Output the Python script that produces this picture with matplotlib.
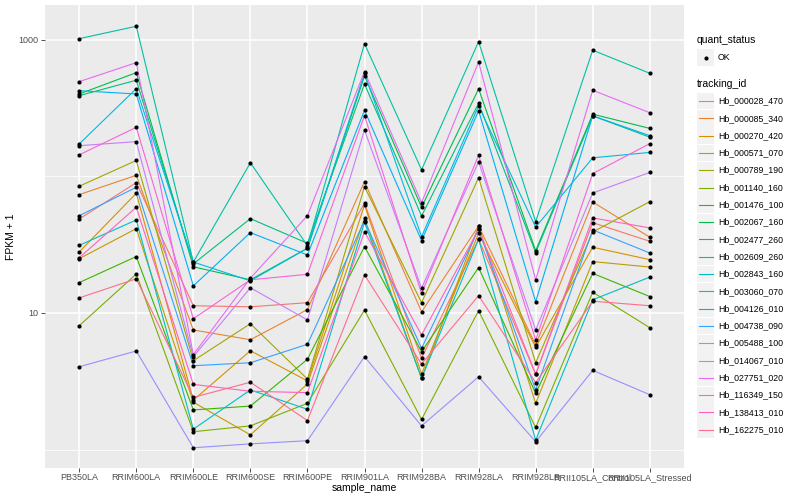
import matplotlib
matplotlib.use("Agg")
import matplotlib.pyplot as plt
from matplotlib.patches import Rectangle
import numpy as np

# ---- data: FPKM + 1 per sample ----
samples = ["PB350LA", "RRIM600LA", "RRIM600LE", "RRIM600SE", "RRIM600PE",
           "RRIM901LA", "RRIM928BA", "RRIM928LA", "RRIM928LB",
           "RRII105LA_Control", "RRII105LA_Stressed"]

tracking_ids = ["Hb_000028_470", "Hb_000085_340", "Hb_000270_420", "Hb_000571_070",
                "Hb_000789_190", "Hb_001140_160", "Hb_001476_100", "Hb_002067_160",
                "Hb_002477_260", "Hb_002609_260", "Hb_002843_160", "Hb_003060_070",
                "Hb_004126_010", "Hb_004738_090", "Hb_005488_100", "Hb_014067_010",
                "Hb_027751_020", "Hb_116349_150", "Hb_138413_010", "Hb_162275_010"]

hb_000028_470 = [48.8, 90.1, 11.3, 11.1, 11.9, 63.6, 4.66, 34.7, 3.56, 45.9, 33.5]
hb_000085_340 = [73.6, 102, 7.51, 6.37, 10.6, 91.6, 10.2, 43.4, 5.83, 65.0, 35.9]
hb_000270_420 = [28.0, 75.3, 2.30, 5.29, 3.18, 61.8, 3.57, 38.4, 5.61, 30.3, 24.6]
hb_000571_070 = [25.0, 41.5, 2.22, 1.28, 3.02, 49.4, 3.32, 43.4, 2.18, 23.8, 21.7]
hb_000789_190 = [84.8, 131, 4.47, 8.35, 3.28, 84.2, 11.9, 98, 4.32, 39.2, 65.4]
hb_001140_160 = [8.07, 19.3, 1.35, 1.49, 2.18, 10.5, 1.66, 10.4, 1.45, 14.2, 7.80]
hb_001476_100 = [16.7, 25.9, 1.95, 2.08, 4.58, 30.6, 5.21, 21.5, 2.58, 19.5, 13.2]
hb_002067_160 = [402, 576, 21.8, 17.5, 29.8, 545, 59.5, 438, 28.6, 286, 225]
hb_002477_260 = [391, 507, 22.9, 49.1, 32.4, 476, 51.4, 344, 27.7, 278, 194]
hb_002609_260 = [1022, 1260, 23.6, 126, 31.1, 940, 112, 972, 46.7, 841, 570]
hb_002843_160 = [31.3, 48.0, 1.41, 2.73, 1.97, 46.2, 3.32, 34.7, 1.17, 12.5, 18.3]
hb_003060_070 = [173, 440, 23.6, 17.2, 29.8, 570, 36.2, 329, 42.5, 137, 150]
hb_004126_010 = [425, 402, 15.8, 38.8, 26.6, 305, 33.9, 303, 12.1, 278, 199]
hb_004738_090 = [51.6, 83.3, 4.11, 4.32, 5.90, 47.5, 5.51, 41.0, 2.73, 40.6, 27.5]
hb_005488_100 = [4.04, 5.27, 1.03, 1.10, 1.16, 4.79, 1.49, 3.41, 1.14, 3.80, 2.52]
hb_014067_010 = [168, 180, 4.79, 15.3, 8.89, 219, 15.2, 128, 7.51, 75.7, 107]
hb_027751_020 = [495, 682, 4.95, 18.0, 51.6, 586, 64.3, 690, 17.5, 428, 293]
hb_116349_150 = [144, 229, 9.08, 17.5, 19.2, 279, 13.9, 143, 6.34, 105, 174]
hb_138413_010 = [25.4, 59.5, 3.00, 2.67, 2.61, 39.4, 6.90, 41.0, 3.56, 49.7, 42.0]
hb_162275_010 = [12.9, 17.8, 2.41, 3.11, 1.63, 19.0, 4.23, 13.4, 3.09, 12.2, 11.3]

series = [hb_000028_470, hb_000085_340, hb_000270_420, hb_000571_070, hb_000789_190,
          hb_001140_160, hb_001476_100, hb_002067_160, hb_002477_260, hb_002609_260,
          hb_002843_160, hb_003060_070, hb_004126_010, hb_004738_090, hb_005488_100,
          hb_014067_010, hb_027751_020, hb_116349_150, hb_138413_010, hb_162275_010]

# ggplot hue palette for 20 levels
colors = ["#F8766D", "#EA8331", "#D89000", "#C09B00", "#A3A500", "#7CAE00", "#39B600",
          "#00BB4E", "#00BF7D", "#00C1A3", "#00BFC4", "#00BAE0", "#00B0F6", "#35A2FF",
          "#9590FF", "#C77CFF", "#E76BF3", "#FA62DB", "#FF62BC", "#FF6C90"]

plt.rcParams['font.family'] = ['Liberation Sans', 'DejaVu Sans']

fig = plt.figure(figsize=(8, 5), dpi=100)
ax = fig.add_axes([45 / 800, 32 / 500, 639 / 800, 463 / 500])
ax.set_facecolor("#EBEBEB")

x = np.arange(len(samples))
for vals, col in zip(series, colors):
    ax.plot(x, vals, color=col, linewidth=0.8, zorder=3)
for vals in series:
    ax.scatter(x, vals, s=9, color="black", zorder=4, linewidths=0)

ax.set_yscale("log")
ax.set_ylim(0.732, 1803)
ax.set_xlim(-0.6, len(samples) - 0.4)
ax.set_yticks([10, 1000])
ax.set_yticklabels(["10", "1000"])
ax.set_yticks([1, 100], minor=True)
ax.yaxis.set_minor_formatter(plt.NullFormatter())
ax.set_xticks(x)
ax.set_xticklabels(samples)

ax.grid(True, which="major", color="white", linewidth=1.1, zorder=0)
ax.grid(True, which="minor", axis="y", color="white", linewidth=0.55, zorder=0)
ax.set_axisbelow(True)
for s in ax.spines.values():
    s.set_visible(False)
ax.tick_params(axis="both", which="major", length=3, width=0.6, color="#333333",
               labelsize=6.5, labelcolor="#4D4D4D", pad=1.5)
ax.tick_params(axis="x", which="major", pad=0.5)
ax.tick_params(axis="y", which="minor", length=0)

ax.set_xlabel("sample_name", fontsize=7.5, labelpad=0.5)
ax.set_ylabel("FPKM + 1", fontsize=7.5, labelpad=2)

# ---- legends, drawn in pixel coordinates ----
lg = fig.add_axes([0, 0, 1, 1], zorder=5)
lg.set_xlim(0, 800)
lg.set_ylim(500, 0)
lg.axis("off")

lg.text(697, 40, "quant_status", fontsize=7.5, va="center", ha="left")
lg.add_patch(Rectangle((697, 49), 17, 17, facecolor="#F2F2F2", edgecolor="none"))
lg.scatter([705.5], [57.5], s=9, color="black", linewidths=0)
lg.text(718, 57.5, "OK", fontsize=6.3, va="center", ha="left")

lg.text(697, 84, "tracking_id", fontsize=7.5, va="center", ha="left")
step = 17.3
for i, (name, col) in enumerate(zip(tracking_ids, colors)):
    yc = 101 + i * step
    lg.add_patch(Rectangle((697, yc - 8.4), 17, 16.8, facecolor="#F2F2F2", edgecolor="none"))
    lg.plot([698.5, 712.5], [yc, yc], color=col, linewidth=0.8)
    lg.text(718, yc, name, fontsize=6.3, va="center", ha="left")

fig.savefig("out.png", dpi=100)
